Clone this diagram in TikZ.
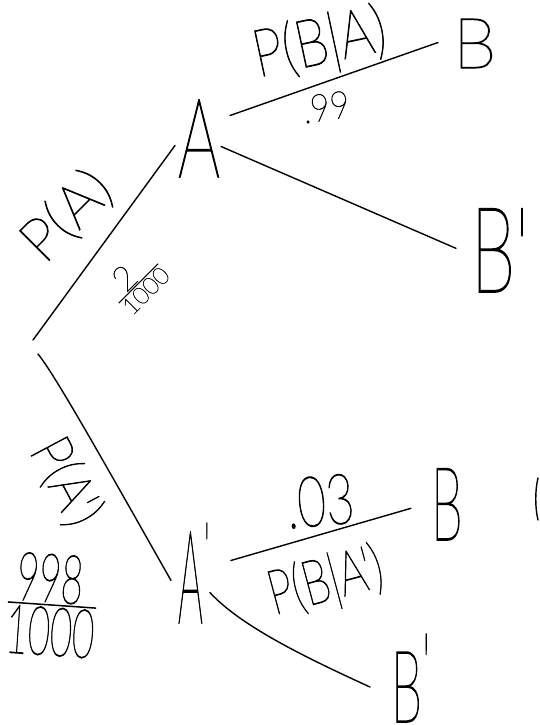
\documentclass[tikz,border=0pt]{standalone}
\usepackage{fontspec}
\usepackage{amsmath}
\usepackage{graphicx}
\IfFontExistsTF{Lato Thin}{\newfontfamily\hand{Lato Thin}[FakeBold=1.5]}{%
 \IfFontExistsTF{Noto Sans Thin}{\newfontfamily\hand{Noto Sans Thin}[FakeBold=1.5]}{%
  \IfFontExistsTF{Poppins Thin}{\newfontfamily\hand{Poppins Thin}[FakeBold=1.5]}{%
   \IfFontExistsTF{Open Sans Light}{\newfontfamily\hand{Open Sans Light}}{%
    \IfFontExistsTF{Fira Sans Light}{\newfontfamily\hand{Fira Sans Light}}{%
     \newfontfamily\hand{Fira Sans}}}}}}
\newcommand{\hw}[3]{\scalebox{#1}[1]{\hand\fontsize{#2}{#2}\selectfont #3}}
\tikzset{
  letter/.style={inner sep=0pt, outer sep=0pt, anchor=base west},
  lab/.style={inner sep=0pt, outer sep=0pt},
  branch/.style={line width=1.4pt, line cap=round, black}
}
\begin{document}
\begin{tikzpicture}[x=1pt,y=-1pt]
\useasboundingbox[fill=white] (0,0) rectangle (539,725);
% points of the tree
\coordinate (root) at (33,340);
\coordinate (rootb) at (38,354);
\node[letter] (A) at (178,177) {\hw{0.6}{110}{A}};
\node[letter] (B1) at (453,68) {\hw{1}{70}{B}};
\node[letter] (B1p) at (471,292) {\hw{0.6}{119}{B'}};
\node[letter, label={[lab, anchor=base west]north east:\raisebox{-40pt}{\hw{0.6}{70}{'}}}] (Ap) at (178,623) {\hw{0.3}{130}{A}};
\node[letter] (B2) at (431,540) {\hw{0.5}{102}{B}};
\node[letter, label={[lab, anchor=base west]north east:\raisebox{-45pt}{\hw{0.5}{90}{'}}}] (B2p) at (391,722) {\hw{0.5}{100}{B}};
% branches
\draw[branch] (root) -- ([shift={(-3,7)}]A.west);
\draw[branch] ([shift={(10,-23)}]A.east) -- ([shift={(-15,-1)}]B1.west);
\draw[branch] ([shift={(1,8)}]A.east) -- ([shift={(-15,-2)}]B1p.west);
\draw[branch] (rootb) .. controls (55,375) and (100,455) .. ([shift={(-7,3)}]Ap.west);
\draw[branch] ([shift={(28,-17)}]Ap.east) -- ([shift={(-20,4)}]B2.west);
\draw[branch] ([shift={(7,15)}]Ap.east) .. controls (240,625) and (300,655) .. ([shift={(-21,0)}]B2p.west);
% labels
\node[lab, rotate=45] (lPA) at (67,216) {\hw{1}{60}{P(A)}};
\node[lab, rotate=45] (lPAv) at (136,281) {$\genfrac{}{}{1.2pt}{}{\hw{1}{34}{2}}{\hw{1}{24}{1000}}$};
\node[lab, rotate=12] (lPBA) at (320,45) {\hw{0.8}{66}{P(B|A)}};
\node[lab, rotate=8] (lPBAv) at (326,107) {\hw{0.9}{38}{.99}};
\node[lab, rotate=-62] (lPAp) at (66,482) {\hw{0.85}{58}{P(A')}};
\node[lab, rotate=-4] (lPApv) at (52,605) {$\genfrac{}{}{1.5pt}{}{\hw{0.56}{68}{998}}{\hw{0.56}{68}{1000}}$};
\node[lab, rotate=5] (lPBApv) at (320,501) {\hw{0.7}{70}{.03}};
\node[lab, rotate=15] (lPBAp) at (326,583) {\hw{0.7}{62}{P(B|A')}};
% cut-off stroke at the right edge
\draw[branch] (538,478) .. controls (535,490) and (535,508) .. (538,520);
\end{tikzpicture}
\end{document}
